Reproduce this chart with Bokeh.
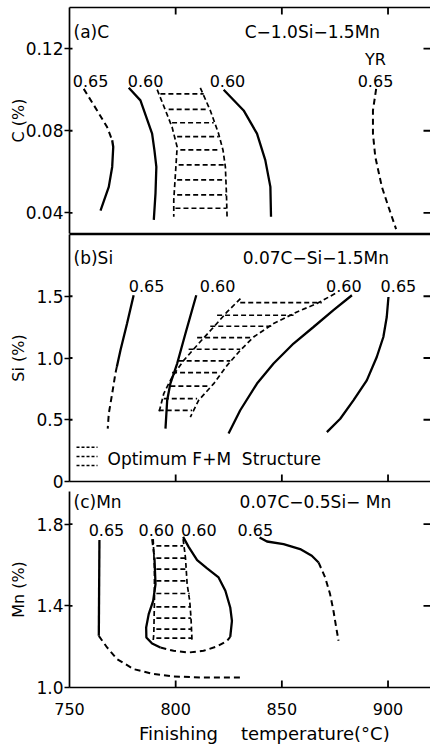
from bokeh.plotting import figure
from bokeh.models import Range1d, LinearAxis, FixedTicker, ColumnDataSource, PrintfTickFormatter
from bokeh.layouts import column
from bokeh.embed import file_html
from bokeh.resources import INLINE
from bokeh.core.properties import value

FONT = "DejaVu Sans"
NB = "\u00a0"

# ---------------- data (finishing temperature in deg C, content in %) -----------
X_RANGE = (750, 920)
A_RANGE = (0.03, 0.14)
B_RANGE = (0.0, 2.0)
C_RANGE = (1.0, 1.9596)
X_TICKS = [750, 800, 850, 900]
X_INNER_TICKS = [800, 850, 900]
A_TICKS = [0.04, 0.08, 0.12]
B_TICKS = [0.0, 0.5, 1.0, 1.5]
C_TICKS = [1.0, 1.4, 1.8]

# panel (a) C
a_065L_dash_x = [756.7, 763.0, 767.7, 770.1]
a_065L_dash_y = [0.1004, 0.0899, 0.0818, 0.0754]
a_065L_solid_x = [770.1, 770.6, 770.1, 768.5, 764.6]
a_065L_solid_y = [0.0754, 0.0721, 0.0624, 0.0527, 0.0411]
a_060L_x = [777.9, 783.4, 788.9, 790.0, 790.9, 790.5, 789.7]
a_060L_y = [0.1009, 0.0948, 0.0786, 0.0705, 0.0624, 0.0495, 0.0366]
a_hatchL_x = [791.3, 795.2, 798.3, 800.7, 799.9, 799.1, 799.1]
a_hatchL_y = [0.1000, 0.0899, 0.0818, 0.0721, 0.0592, 0.0463, 0.0382]
a_hatchR_x = [811.6, 816.3, 820.2, 822.3, 823.4, 823.9, 824.2]
a_hatchR_y = [0.1009, 0.0899, 0.0786, 0.0705, 0.0624, 0.0495, 0.0382]
a_hatch_y = [0.0980, 0.0904, 0.0839, 0.0772, 0.0707, 0.0634, 0.0561, 0.0488, 0.0423]
a_hatch_x0 = [792.8, 796.7, 798.3, 800.7, 802.2, 801.4, 800.7, 800.7, 799.9]
a_hatch_x1 = [813.2, 815.5, 817.9, 820.2, 821.0, 823.4, 823.4, 823.9, 823.9]
a_060R_x = [822.6, 832.0, 838.3, 842.2, 844.6, 844.9]
a_060R_y = [0.1000, 0.0899, 0.0786, 0.0657, 0.0527, 0.0382]
a_065R_x = [894.4, 892.9, 892.9, 894.0, 897.1, 900.2, 903.8]
a_065R_y = [0.1004, 0.0899, 0.0786, 0.0673, 0.0527, 0.0430, 0.0321]

# panel (b) Si
b_065L_solid_x = [780.2, 777.1, 774.0, 772.3]
b_065L_solid_y = [1.508, 1.279, 1.062, 0.930]
b_065L_dash_x = [772.3, 771.6, 770.1, 768.5, 768.0]
b_065L_dash_y = [0.930, 0.873, 0.712, 0.550, 0.428]
b_060L_x = [809.7, 804.6, 800.7, 797.5, 796.0, 795.2]
b_060L_y = [1.508, 1.198, 0.955, 0.793, 0.658, 0.428]
b_hatchL_x = [830.5, 824.2, 817.9, 810.8, 803.8, 798.3, 794.4, 792.0]
b_hatchL_y = [1.481, 1.373, 1.251, 1.117, 0.981, 0.846, 0.712, 0.550]
b_hatchR_x = [875.1, 866.5, 857.1, 846.1, 836.7, 830.4, 824.2, 817.9, 810.8, 806.9]
b_hatchR_y = [1.522, 1.441, 1.373, 1.279, 1.170, 1.062, 0.940, 0.792, 0.657, 0.521]
b_hatch_y = [1.449, 1.346, 1.257, 1.165, 1.071, 0.976, 0.882, 0.773, 0.671, 0.576]
b_hatch_x0 = [830.4, 819.5, 816.3, 810.1, 806.1, 801.4, 798.3, 797.5, 794.4, 792.0]
b_hatch_x1 = [868.8, 855.5, 846.1, 835.9, 830.4, 825.7, 820.2, 815.5, 810.1, 807.7]
b_060R_x = [883.0, 874.3, 864.9, 855.5, 846.1, 838.3, 830.4, 824.9]
b_060R_y = [1.508, 1.387, 1.251, 1.117, 0.955, 0.793, 0.577, 0.388]
b_065R_x = [900.2, 899.4, 897.8, 894.7, 890.0, 883.7, 877.5, 871.2]
b_065R_y = [1.494, 1.332, 1.170, 1.008, 0.819, 0.657, 0.508, 0.400]
legend_icon_y = [0.277, 0.202, 0.129]
legend_icon_x0 = [753.3, 753.3, 753.3]
legend_icon_x1 = [763.2, 763.2, 763.2]

# panel (c) Mn
c_065L_solid_x = [764.1, 763.8]
c_065L_solid_y = [1.722, 1.253]
c_065L_dash_x = [763.8, 767.7, 772.4, 780.2, 789.6, 799.0, 811.6, 830.4]
c_065L_dash_y = [1.253, 1.196, 1.139, 1.090, 1.066, 1.054, 1.049, 1.049]
c_060top_x = [788.9, 790.0]
c_060top_y = [1.7266, 1.6365]
c_060L_x = [790.0, 790.5, 789.4, 787.3, 786.1, 786.2, 788.9, 792.8]
c_060L_y = [1.6365, 1.5062, 1.4245, 1.3594, 1.2938, 1.2448, 1.2154, 1.1958]
c_060bot_x = [792.8, 799.0, 806.1, 813.1, 819.4, 824.2, 825.7]
c_060bot_y = [1.1958, 1.1796, 1.1713, 1.1796, 1.2006, 1.2285, 1.248]
c_060R_x = [825.7, 826.5, 825.7, 823.4, 820.2, 814.8, 810.1, 806.1, 803.5]
c_060R_y = [1.248, 1.3265, 1.3918, 1.4735, 1.5388, 1.5829, 1.6235, 1.6886, 1.7376]
c_hatchL_x = [789.4, 790.0, 790.0, 789.7, 789.4]
c_hatchL_y = [1.7266, 1.588, 1.4245, 1.261, 1.229]
c_hatchR_x = [803.5, 804.6, 805.4, 806.6, 807.2, 807.7]
c_hatchR_y = [1.7266, 1.6365, 1.5062, 1.4245, 1.3431, 1.229]
c_hatch_y = [1.6938, 1.6335, 1.5797, 1.5224, 1.4602, 1.3951, 1.3398, 1.2859, 1.2418]
c_hatch_x0 = [790.9, 790.9, 790.9, 790.9, 790.9, 790.9, 790.9, 790.9, 790.9]
c_hatch_x1 = [803.5, 804.6, 805.0, 805.6, 806.6, 807.2, 807.2, 807.7, 807.7]
c_065R_solid_x = [839.5, 843.0, 850.8, 858.6, 864.1, 867.3]
c_065R_solid_y = [1.7344, 1.7148, 1.7021, 1.6776, 1.6448, 1.6120]
c_065R_dash_x = [867.3, 870.4, 872.7, 874.3, 875.6, 876.7]
c_065R_dash_y = [1.6120, 1.5386, 1.4574, 1.3757, 1.2938, 1.229]

# text annotations
a_lab_text = ["0.65", "0.60", "0.60", "0.65"]
a_lab_x = [759.9, 785.8, 824.4, 894.1]
a_lab_y = [0.104, 0.104, 0.104, 0.104]
b_lab_text = ["0.65", "0.60", "0.60", "0.65"]
b_lab_x = [786.3, 819.7, 879.2, 904.9]
b_lab_y = [1.581, 1.581, 1.581, 1.581]
c_lab_text = ["0.65", "0.60", "0.60", "0.65"]
c_lab_x = [767.4, 790.9, 810.9, 837.5]
c_lab_y = [1.772, 1.772, 1.772, 1.772]

# ---------------- helpers -----------------
SOLID = dict(line_color="black", line_width=2.3)
DASH = dict(line_color="black", line_width=2.0, line_dash="6 4")
HATCH = dict(line_color="black", line_width=1.7, line_dash="5 3")
TICK = dict(line_color="black", line_width=1.8)
FRAME_W = 361  # px of plotting frame width
TICK_IN = 7    # px length of inward ticks
TICK_IN_LEFT = 3


def panel(height, yr, top, bottom):
    p = figure(width=430, height=height, x_range=Range1d(*X_RANGE), y_range=Range1d(*yr),
               output_backend="svg", toolbar_location=None,
               x_axis_location=None, y_axis_location=None,
               min_border_left=69, min_border_right=0,
               min_border_top=top, min_border_bottom=bottom)
    p.outline_line_color = None
    p.xgrid.visible = False
    p.ygrid.visible = False
    p.background_fill_color = "white"
    p.border_fill_color = "white"
    return p


def line_axis():
    # plain frame line, no ticks and no labels
    return LinearAxis(ticker=FixedTicker(ticks=[]), major_tick_in=0, major_tick_out=0,
                      minor_tick_line_color=None, major_label_standoff=0,
                      axis_line_color="black", axis_line_width=1.7)


def left_axis(ticks, title, standoff, fmt, overrides=None):
    ax = LinearAxis(ticker=FixedTicker(ticks=ticks), axis_label=title,
                    formatter=PrintfTickFormatter(format=fmt),
                    major_tick_in=0, major_tick_out=5, minor_tick_line_color=None,
                    major_label_standoff=1, major_label_text_font=FONT,
                    major_label_text_font_size="17px", major_label_text_color="black",
                    axis_label_text_font=FONT, axis_label_text_font_size="16px",
                    axis_label_text_font_style="normal", axis_label_text_color="black",
                    axis_label_standoff=standoff,
                    axis_line_color="black", axis_line_width=1.7,
                    major_tick_line_color="black", major_tick_line_width=1.6)
    if overrides:
        ax.major_label_overrides = overrides
    return ax


def inner_ticks(p, yr, frame_h, yticks, top=False, bottom=False, xticks=X_INNER_TICKS):
    # inward tick marks drawn inside the frame, converted from pixels to data units
    dx = (X_RANGE[1] - X_RANGE[0]) / FRAME_W
    dy = (yr[1] - yr[0]) / frame_h
    n = len(yticks)
    p.segment(x0=[X_RANGE[0]] * n, y0=yticks, x1=[X_RANGE[0] + TICK_IN_LEFT * dx] * n, y1=yticks, **TICK)
    p.segment(x0=[X_RANGE[1] - TICK_IN * dx] * n, y0=yticks, x1=[X_RANGE[1]] * n, y1=yticks, **TICK)
    m = len(xticks)
    if top:
        p.segment(x0=xticks, y0=[yr[1]] * m, x1=xticks, y1=[yr[1] - TICK_IN * dy] * m, **TICK)
    if bottom:
        p.segment(x0=xticks, y0=[yr[0]] * m, x1=xticks, y1=[yr[0] + TICK_IN * dy] * m, **TICK)


def texts(p, xs, ys, labels, align="center", size="16px"):
    src = ColumnDataSource(dict(x=xs, y=ys, t=labels))
    p.text(x="x", y="y", text="t", source=src, text_font=value(FONT),
           text_font_size=size, text_align=align, text_baseline="middle", text_color="black")


def hatch(p, x0, x1, y):
    p.segment(x0=x0, y0=y, x1=x1, y1=y, **HATCH)


# ---------------- panel (a) -----------------
pa = panel(234, A_RANGE, 7, 1)
pa.add_layout(left_axis(A_TICKS, "C (%)", -5, "%.2f"), "left")
pa.add_layout(line_axis(), "above")
pa.add_layout(line_axis(), "below")
inner_ticks(pa, A_RANGE, 226, A_TICKS, top=True)
pa.line(a_065L_dash_x, a_065L_dash_y, **DASH)
pa.line(a_065L_solid_x, a_065L_solid_y, **SOLID)
pa.line(a_060L_x, a_060L_y, **SOLID)
pa.line(a_hatchL_x, a_hatchL_y, **HATCH)
pa.line(a_hatchR_x, a_hatchR_y, **HATCH)
hatch(pa, a_hatch_x0, a_hatch_x1, a_hatch_y)
pa.line(a_060R_x, a_060R_y, **SOLID)
pa.line(a_065R_x, a_065R_y, **DASH)
texts(pa, a_lab_x, a_lab_y, a_lab_text)
texts(pa, [751.9], [0.128], ["(a)C"], align="left", size="17px")
texts(pa, [864.4], [0.128], ["C\u22121.0Si\u22121.5Mn"], size="17px")
texts(pa, [894.1], [0.1147], ["YR"])

# ---------------- panel (b) -----------------
pb = panel(257, B_RANGE, 0, 10)
pb.add_layout(left_axis(B_TICKS, "Si (%)", 5, "%.1f", {0: "0"}), "left")
pb.add_layout(line_axis(), "above")
pb.add_layout(line_axis(), "below")
inner_ticks(pb, B_RANGE, 247, B_TICKS[1:], bottom=True)
pb.line(b_065L_solid_x, b_065L_solid_y, **SOLID)
pb.line(b_065L_dash_x, b_065L_dash_y, **DASH)
pb.line(b_060L_x, b_060L_y, **SOLID)
pb.line(b_hatchL_x, b_hatchL_y, **HATCH)
pb.line(b_hatchR_x, b_hatchR_y, **HATCH)
hatch(pb, b_hatch_x0, b_hatch_x1, b_hatch_y)
pb.line(b_060R_x, b_060R_y, **SOLID)
pb.line(b_065R_x, b_065R_y, **SOLID)
pb.segment(x0=legend_icon_x0, y0=legend_icon_y, x1=legend_icon_x1, y1=legend_icon_y,
           line_color="black", line_width=1.5, line_dash="3 2")
texts(pb, b_lab_x, b_lab_y, b_lab_text)
texts(pb, [751.9], [1.812], ["(b)Si"], align="left", size="17px")
texts(pb, [866.0], [1.812], ["0.07C\u2212Si\u22121.5Mn"], size="17px")
texts(pb, [767.9], [0.179], ["Optimum" + NB + "F+M" + NB + NB + "Structure"], align="left", size="17px")

# ---------------- panel (c) -----------------
pc = panel(262, C_RANGE, 0, 66)
pc.add_layout(left_axis(C_TICKS, "Mn (%)", 5, "%.1f"), "left")
bx = LinearAxis(ticker=FixedTicker(ticks=X_TICKS),
                axis_label=NB * 5 + "Finishing" + NB * 4 + "temperature(\u00b0C)",
                major_tick_in=0, major_tick_out=0, minor_tick_line_color=None,
                major_label_standoff=15, major_label_text_font=FONT,
                major_label_text_font_size="16px", major_label_text_color="black",
                axis_label_text_font=FONT, axis_label_text_font_size="18px",
                axis_label_text_font_style="normal", axis_label_text_color="black",
                axis_label_standoff=5, axis_line_color="black", axis_line_width=1.7)
pc.add_layout(bx, "below")
inner_ticks(pc, C_RANGE, 196, C_TICKS[1:], bottom=True)
pc.line(c_065L_solid_x, c_065L_solid_y, **SOLID)
pc.line(c_065L_dash_x, c_065L_dash_y, **DASH)
pc.line(c_060top_x, c_060top_y, **DASH)
pc.line(c_060L_x, c_060L_y, **SOLID)
pc.line(c_060bot_x, c_060bot_y, **DASH)
pc.line(c_060R_x, c_060R_y, **SOLID)
pc.line(c_hatchL_x, c_hatchL_y, **HATCH)
pc.line(c_hatchR_x, c_hatchR_y, **HATCH)
hatch(pc, c_hatch_x0, c_hatch_x1, c_hatch_y)
pc.line(c_065R_solid_x, c_065R_solid_y, **SOLID)
pc.line(c_065R_dash_x, c_065R_dash_y, **DASH)
texts(pc, c_lab_x, c_lab_y, c_lab_text)
texts(pc, [751.9], [1.909], ["(c)Mn"], align="left", size="17px")
texts(pc, [865.8], [1.909], ["0.07C\u22120.5Si\u2212 Mn"], size="17px")

layout = column(pa, pb, pc, spacing=0)
open("out.html", "w").write(file_html(layout, INLINE))
